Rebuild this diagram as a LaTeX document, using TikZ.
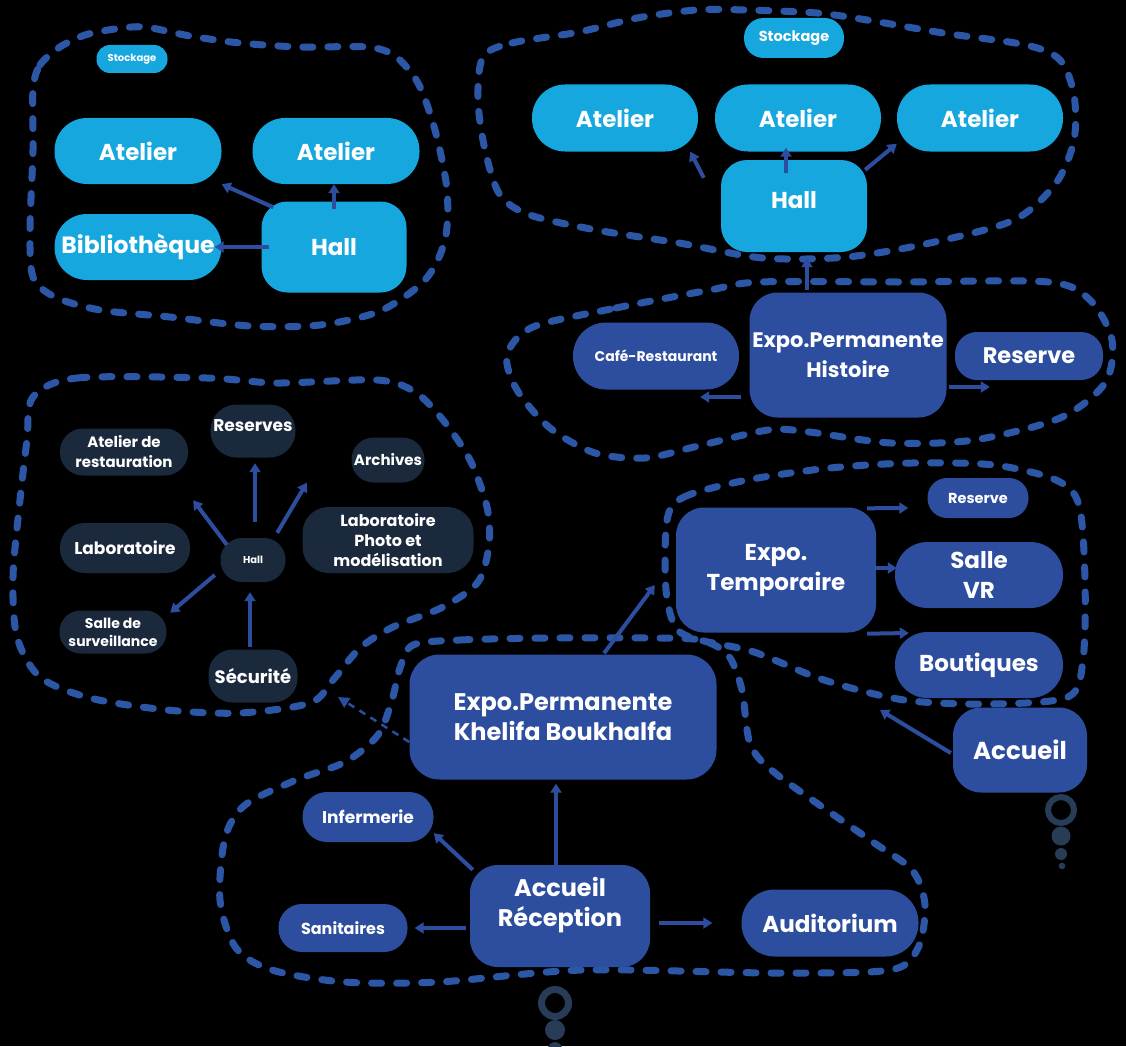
\documentclass[tikz,border=0pt]{standalone}
\usepackage{fontspec}
\setmainfont{Poppins}
\usetikzlibrary{arrows.meta,calc}
\definecolor{lblue}{RGB}{21,167,222}
\definecolor{mblue}{RGB}{45,78,158}
\definecolor{dshc}{RGB}{44,87,166}
\definecolor{navy}{RGB}{27,41,61}
\definecolor{bubc}{RGB}{40,60,88}
\begin{document}
\begin{tikzpicture}[x=1pt,y=-1pt,
  base/.style={rectangle, inner sep=0pt, align=center, text=white},
  bx/.style n args={4}{base, minimum width=#1pt, minimum height=#2pt, rounded corners=#3pt, fill=#4},
  fz/.style 2 args={font=\fontsize{#1pt}{#2pt}\selectfont\bfseries},
  loop/.style={draw=dshc, line width=7pt, line cap=round, dash pattern=on 10pt off 15pt},
  arr/.style={draw=mblue, line width=4pt, -{Triangle[length=9pt,width=11pt]}},
  darr/.style={draw=mblue, line width=2.5pt, dash pattern=on 7pt off 6pt, -{Triangle[length=11pt,width=11pt]}}
]
\fill[black] (0,0) rectangle (1126,1046);
\useasboundingbox (0,0) rectangle (1126,1046);

% ---------- dashed loops ----------
\draw[loop] plot[smooth cycle, tension=0.5] coordinates {
 (33,90) (40,65) (60,47) (85,35) (115,29) (145,27) (190,36) (240,43) (300,47) (367,47)
 (395,56) (418,83) (435,130) (447,190) (445,240) (425,280) (380,311) (320,325) (250,326)
 (170,317) (100,310) (55,297) (33,277) (30,230) (33,150)};
\draw[loop] plot[smooth cycle, tension=0.5] coordinates {
 (483,57) (512,43) (579,32) (637,18) (696,10) (746,10) (817,13) (867,20) (943,33)
 (1026,45) (1060,60) (1074,95) (1074,140) (1056,183) (1014,220) (930,243) (847,257)
 (763,258) (679,243) (596,230) (530,215) (500,195) (485,150) (478,100)};
\draw[loop] plot[smooth cycle, tension=0.5] coordinates {
 (533,327) (616,308) (710,290) (760,282) (900,282) (1048,282) (1090,300) (1112,340)
 (1105,383) (1060,418) (974,440) (891,443) (809,432) (768,430) (694,447) (645,458)
 (595,453) (550,428) (517,390) (507,355)};
\draw[loop] plot[smooth cycle, tension=0.5] coordinates {
 (667,520) (684,497) (747,480) (830,468) (912,463) (994,465) (1056,480) (1079,505)
 (1085,580) (1083,660) (1068,697) (990,704) (904,700) (824,680) (754,652) (700,640)
 (676,628) (666,590)};
\draw[loop] plot[smooth cycle, tension=0.5] coordinates {
 (413,645) (460,640) (550,638) (650,638) (700,640) (728,655) (742,690) (750,743)
 (775,773) (870,840) (912,870) (925,905) (918,948) (890,970) (774,973) (583,970)
 (439,982) (344,982) (272,970) (236,948) (220,900) (225,838) (245,805) (296,780)
 (345,762) (378,735) (392,700) (400,668)};
\draw[loop] plot[smooth cycle, tension=0.5] coordinates {
 (33,397) (77,378) (207,378) (277,383) (377,380) (415,392) (443,420) (470,460)
 (487,507) (489,545) (478,582) (443,607) (393,627) (360,648) (333,680) (310,703)
 (240,713) (167,710) (90,698) (40,677) (17,637) (13,577) (20,500) (27,440)};

% ---------- top-left cluster ----------
\node[bx={71}{28}{13.5}{lblue}, fz={10}{12}] (stockL) at (132,59) {Stockage};
\node[bx={167}{66}{32.5}{lblue}, fz={23}{28}] (atL1) at (138,151) {Atelier};
\node[bx={167}{66}{32.5}{lblue}, fz={23}{28}] (atL2) at (336,151) {Atelier};
\node[bx={167}{66}{32.5}{lblue}, fz={23.5}{28}] (bib) at (138,247) {Bibliothèque};
\node[bx={145}{91}{26}{lblue}, fz={23}{28}] (hallL) at (334,247) {Hall};

% ---------- top-right cluster ----------
\node[bx={100}{40}{19.5}{lblue}, fz={14.5}{16}] (stockR) at (794,38) {Stockage};
\node[bx={166}{67}{33}{lblue}, fz={23}{28}] (atR1) at (615,118) {Atelier};
\node[bx={166}{67}{33}{lblue}, fz={23}{28}] (atR2) at (798,118) {Atelier};
\node[bx={166}{67}{33}{lblue}, fz={23}{28}] (atR3) at (980,118) {Atelier};
\node[bx={146}{92}{26}{lblue}, fz={23}{28}] (hallR) at (794,206) {\raisebox{-2pt}[0pt][0pt]{Hall}};

% ---------- Histoire ----------
\node[bx={166}{67}{33}{mblue}, fz={14}{16}] (cafe) at (656,356) {Café-Restaurant};
\node[bx={197}{125}{28}{mblue}, fz={21}{30}] (histo) at (848,355) {Expo.Permanente\\Histoire};
\node[bx={148}{48}{22}{mblue}, fz={22.5}{28}] (resH) at (1029,356) {Reserve};

% ---------- Temporaire ----------
\node[bx={101}{40}{19.5}{mblue}, fz={14.5}{16}] (resT) at (978,498) {Reserve};
\node[bx={200}{125}{28}{mblue}, fz={23}{30}] (temp) at (776,570) {Expo.\\Temporaire};
\node[bx={168}{66}{32.5}{mblue}, fz={23}{30}] (salle) at (979,575) {Salle\\VR};
\node[bx={168}{66}{32.5}{mblue}, fz={23}{28}] (bout) at (979,665) {Boutiques};
\node[bx={134}{85}{28}{mblue}, fz={24.5}{28}] (acc) at (1020,750) {Accueil};

% ---------- bottom ----------
\node[bx={307}{125}{30}{mblue}, fz={24}{30}] (khel) at (563,717) {Expo.Permanente\\Khelifa Boukhalfa};
\node[bx={131}{50}{24.5}{mblue}, fz={17}{18}] (inf) at (368,817) {Infermerie};
\node[bx={129}{48}{23.5}{mblue}, fz={16}{18}] (san) at (343,928) {Sanitaires};
\node[bx={180}{102}{28}{mblue}, fz={24}{30}] (ar) at (560,916) {\raisebox{4pt}[0pt][0pt]{\begin{tabular}{@{}c@{}}Accueil\\Réception\end{tabular}}};
\node[bx={177}{67}{33}{mblue}, fz={23}{28}] (aud) at (830,923) {Auditorium};

% ---------- dark cluster ----------
\node[bx={128}{47}{23}{navy}, fz={15}{20}] (atr) at (124,452) {Atelier de\\restauration};
\node[bx={85}{53}{26}{navy}, fz={17}{20}] (rsv) at (253,431) {\raisebox{0pt}[0pt][0pt]{Reserves}};
\node[bx={73}{45}{22}{navy}, fz={15}{18}] (arc) at (388,460) {Archives};
\node[bx={171}{66}{26}{navy}, fz={16}{20}] (lab2) at (388,540) {Laboratoire\\Photo et\\modélisation};
\node[bx={130}{50}{24.5}{navy}, fz={17}{18}] (lab) at (125,548) {Laboratoire};
\node[bx={65}{44}{21.5}{navy}, fz={10}{12}] (hallD) at (253,560) {Hall};
\node[bx={107}{43}{21}{navy}, fz={14}{18}] (sal) at (113,632) {Salle de\\surveillance};
\node[bx={89}{53}{24}{navy}, fz={18}{20}] (sec) at (253,676) {Sécurité};

% ---------- arrows ----------
\draw[arr] ($(hallL.north west)+(12,6)$) -- (atL1.south east);
\draw[arr] ($(hallL.north)+(0,8)$) -- (hallL.north |- atL2.south);
\draw[arr] ($(hallL.west)+(8,0)$) -- ($(bib.east)+(-7,0)$);

\draw[arr] ($(hallR.north west)+(-17,18)$) -- ($(atR1.south east)+(-8,0)$);
\draw[arr] ($(hallR.north)+(-8,13)$) -- ($(atR2.south)+(-12,-4)$);
\draw[arr] ($(hallR.north east)+(-2,10)$) -- ($(atR3.south west)+(0,-8)$);
\draw[arr] ($(histo.north)+(-41,-2)$) -- ($(hallR.south)+(13,6)$);

\draw[arr] ($(histo.west)+(-8,42)$) -- ($(cafe.east)+(-39,41)$);
\draw[arr] ($(histo.east)+(2,32)$) -- ($(resH.west)+(35,31)$);

\draw[arr] ($(temp.north east)+(-9,1)$) -- ($(resT.west)+(-19,10)$);
\draw[arr] ($(temp.east)+(0,-2)$) -- ($(salle.west)+(2,-7)$);
\draw[arr] ($(temp.south east)+(-9,1)$) -- ($(bout.west)+(14,-32)$);
\coordinate (accTip) at (880,710);
\draw[arr] ($(acc.west)+(-2,3)$) -- (accTip);
\draw[arr] ($(khel.north)+(41,-1)$) -- ($(temp.west)+(-21,15)$);

\draw[arr] ($(ar.north)+(-4,2)$) -- ($(khel.south)+(-7,4)$);
\draw[arr] ($(ar.north west)+(3,5)$) -- ($(inf.south east)+(0,-9)$);
\draw[arr] ($(ar.west)+(-4,12)$) -- ($(san.east)+(7,0)$);
\draw[arr] ($(ar.east)+(9,7)$) -- ($(aud.west)+(-29,0)$);
\coordinate (darkTip) at (338,697);
\draw[darr] ($(khel.west)+(0,25)$) -- (darkTip);

\draw[arr] ($(hallD.north west)+(6.5,7)$) -- ($(atr.south east)+(5,24.5)$);
\draw[arr] ($(hallD.north)+(2,-16)$) -- ($(rsv.south)+(2,5.5)$);
\draw[arr] ($(hallD.north east)+(-8.5,-5)$) -- ($(arc.south west)+(-44.5,0)$);
\draw[arr] ($(hallD.west)+(-5.5,15)$) -- ($(sal.north east)+(3.5,2.5)$);
\draw[arr] ($(sec.north)+(-3,-2.5)$) -- ($(hallD.south)+(-3,10)$);

% ---------- bubbles ----------
\draw[bubc, line width=6pt] (1061,810) circle[radius=13pt];
\fill[bubc] (1061,836) circle[radius=9.5pt];
\fill[bubc] (1061,854) circle[radius=6pt];
\fill[bubc] (1062,866) circle[radius=3.3pt];
\draw[bubc, line width=7pt] (555,1003) circle[radius=13.5pt];
\fill[bubc] (555,1030) circle[radius=10pt];
\fill[bubc] (555,1049) circle[radius=7pt];
\end{tikzpicture}
\end{document}
